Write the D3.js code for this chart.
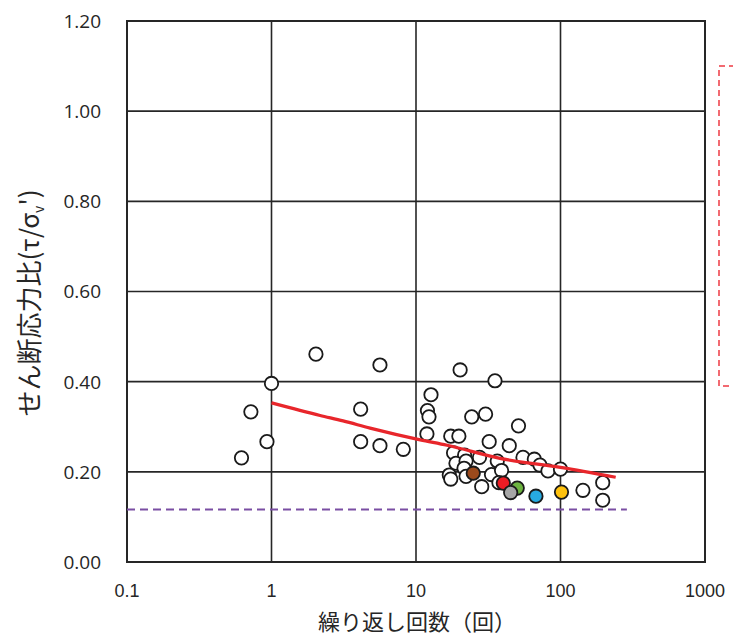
<!DOCTYPE html>
<html>
<head>
<meta charset="utf-8">
<script src="https://cdn.jsdelivr.net/npm/d3@7"></script>
<style>
  html, body { margin: 0; padding: 0; background: #fff; }
  svg { display: block; }
</style>
</head>
<body>
<svg id="chart" width="733" height="635"></svg>
<script>
// Cyclic shear test results: number of cycles vs. shear stress ratio
const xTicks = [0.1, 1, 10, 100, 1000];
const xTickLabels = ["0.1", "1", "10", "100", "1000"];
const yTicks = [0, 0.2, 0.4, 0.6, 0.8, 1.0, 1.2];
const yTickLabels = ["0.00", "0.20", "0.40", "0.60", "0.80", "1.00", "1.20"];

// Individual test specimens (cycles, stress ratio)
const testCycles = [0.62, 0.72, 0.93, 1.0, 2.03, 4.14, 4.14, 5.63, 5.63, 8.17,
  12.7, 12.0, 12.3, 11.9, 20.2, 35.2, 17.4, 19.8, 24.3, 30.3,
  51.2, 32.1, 44.2, 18.2, 21.7, 27.5, 36.5, 55.0, 65.9, 72.1,
  81.9, 100, 18.9, 22.2, 21.5, 17.0, 17.4, 22.2, 33.3, 39.1,
  28.5, 37.5, 143, 196, 196];
const testRatios = [0.231, 0.333, 0.267, 0.396, 0.461, 0.339, 0.267, 0.437, 0.258, 0.250,
  0.371, 0.336, 0.322, 0.284, 0.426, 0.402, 0.279, 0.279, 0.322, 0.328,
  0.302, 0.267, 0.258, 0.242, 0.237, 0.232, 0.224, 0.232, 0.228, 0.215,
  0.202, 0.206, 0.219, 0.224, 0.208, 0.193, 0.184, 0.190, 0.194, 0.203,
  0.167, 0.176, 0.159, 0.176, 0.137];

// Highlighted specimens
const keyCycles = [24.9, 40.2, 50.2, 45.2, 67.6, 101.6];
const keyRatios = [0.197, 0.175, 0.164, 0.154, 0.146, 0.155];
const keyColors = ["#9c4a1c", "#ed1c24", "#6cb33f", "#a6a6a6", "#27aae1", "#ffc20e"];

// Liquefaction strength curve
const curveCycles = [1.0, 2.17, 3.13, 4.81, 10.7, 16.4, 38.1, 100, 241];
const curveRatios = [0.353, 0.325, 0.313, 0.297, 0.271, 0.259, 0.230, 0.210, 0.188];

// Design reference level
const refCycles = [0.1, 288];
const refRatio = 0.1165;

const svg = d3.select("#chart");
const plotLeft = 127, plotRight = 705, plotTop = 21, plotBottom = 562;

const x = d3.scaleLog().domain([0.1, 1000]).range([plotLeft, plotRight]);
const y = d3.scaleLinear().domain([0, 1.2]).range([plotBottom, plotTop]);

// Grid lines
svg.append("g")
  .selectAll("line")
  .data(yTicks)
  .join("line")
  .attr("x1", plotLeft).attr("x2", plotRight)
  .attr("y1", d => y(d)).attr("y2", d => y(d))
  .attr("stroke", "#262626").attr("stroke-width", 1.6);

svg.append("g")
  .selectAll("line")
  .data(xTicks)
  .join("line")
  .attr("x1", d => x(d)).attr("x2", d => x(d))
  .attr("y1", plotTop).attr("y2", plotBottom)
  .attr("stroke", "#262626").attr("stroke-width", 1.6);

// Plot frame
svg.append("rect")
  .attr("x", plotLeft).attr("y", plotTop)
  .attr("width", plotRight - plotLeft).attr("height", plotBottom - plotTop)
  .attr("fill", "none").attr("stroke", "#262626").attr("stroke-width", 2);

// Reference level (dashed)
svg.append("line")
  .attr("x1", x(refCycles[0])).attr("x2", x(refCycles[1]))
  .attr("y1", y(refRatio)).attr("y2", y(refRatio))
  .attr("stroke", "#7a4ea3").attr("stroke-width", 1.8)
  .attr("stroke-dasharray", "8,5");

// Test points
svg.append("g")
  .selectAll("circle")
  .data(testCycles.map((c, i) => [c, testRatios[i]]))
  .join("circle")
  .attr("cx", d => x(d[0])).attr("cy", d => y(d[1]))
  .attr("r", 6.7)
  .attr("fill", "#fff").attr("stroke", "#1a1a1a").attr("stroke-width", 1.8);

// Strength curve
const line = d3.line().x(d => x(d[0])).y(d => y(d[1])).curve(d3.curveMonotoneX);
svg.append("path")
  .datum(curveCycles.map((c, i) => [c, curveRatios[i]]))
  .attr("d", line)
  .attr("fill", "none").attr("stroke", "#e8262b").attr("stroke-width", 3.2);

// Highlighted points
svg.append("g")
  .selectAll("circle")
  .data(keyCycles.map((c, i) => [c, keyRatios[i], keyColors[i]]))
  .join("circle")
  .attr("cx", d => x(d[0])).attr("cy", d => y(d[1]))
  .attr("r", 6.7)
  .attr("fill", d => d[2]).attr("stroke", "#1a1a1a").attr("stroke-width", 1.8);

// Legend frame (dashed)
svg.append("rect")
  .attr("x", 719).attr("y", 66)
  .attr("width", 40).attr("height", 320)
  .attr("fill", "none").attr("stroke", "#ee3a43").attr("stroke-width", 1.5)
  .attr("stroke-dasharray", "6,4");

// Tick labels
svg.append("g")
  .selectAll("text")
  .data(yTicks)
  .join("text")
  .attr("x", 101).attr("y", d => y(d))
  .attr("dy", "0.36em")
  .attr("text-anchor", "end")
  .attr("font-family", "'Open Sans', 'Noto Sans', sans-serif")
  .attr("font-size", 19)
  .attr("fill", "#262626")
  .text((d, i) => yTickLabels[i]);

svg.append("g")
  .selectAll("text")
  .data(xTicks)
  .join("text")
  .attr("x", d => x(d)).attr("y", 597)
  .attr("text-anchor", "middle")
  .attr("font-family", "'Liberation Sans Narrow', 'Liberation Sans', Arial, sans-serif")
  .attr("font-size", 18)
  .attr("fill", "#262626")
  .text((d, i) => xTickLabels[i]);

// Axis titles
svg.append("text")
  .attr("x", 417).attr("y", 630)
  .attr("text-anchor", "middle")
  .attr("font-family", "'Noto Sans CJK JP', sans-serif")
  .attr("font-size", 22)
  .attr("fill", "#262626")
  .text("繰り返し回数（回）");

const yTitle = svg.append("text")
  .attr("transform", "translate(39,303) rotate(-90)")
  .attr("text-anchor", "middle")
  .attr("font-family", "'Noto Sans CJK JP', sans-serif")
  .attr("font-size", 26)
  .attr("fill", "#262626");
yTitle.append("tspan").text("せん断応力比(τ/σ");
yTitle.append("tspan").attr("font-size", 14).attr("dy", 5).text("v");
yTitle.append("tspan").attr("dy", -5).text("')");
</script>
</body>
</html>
